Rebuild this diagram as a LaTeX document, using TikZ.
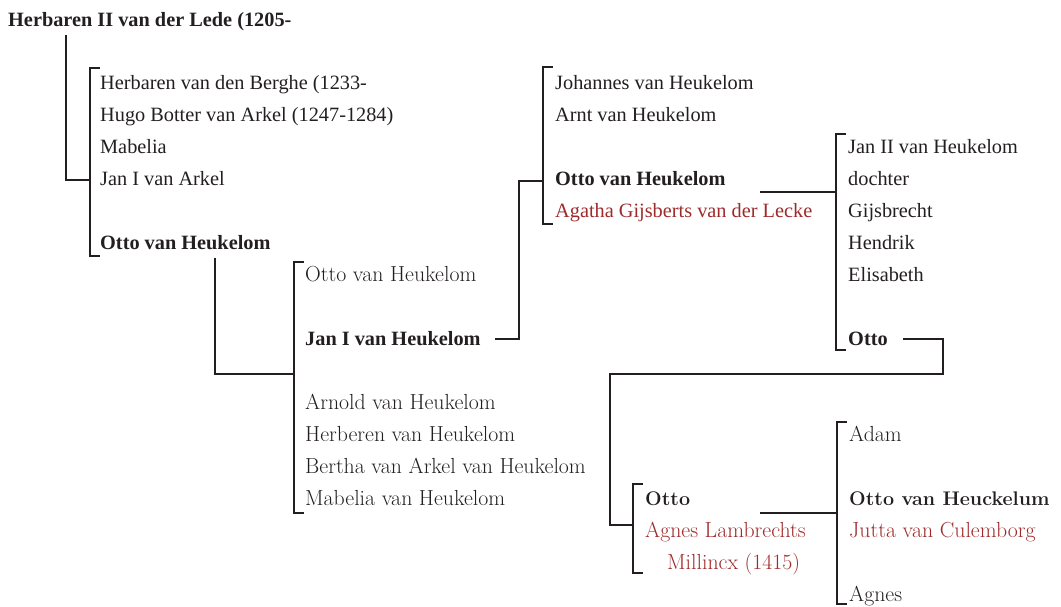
\documentclass[tikz,border=0pt]{standalone}
\usepackage{fontspec}
\newfontfamily\tms{Liberation Serif}
\definecolor{ink}{HTML}{231F20}
\definecolor{wine}{HTML}{9E2A2B}
\tikzset{
	tm/.style={anchor=base west,inner sep=0pt,text=ink,font=\tms\fontsize{20.3}{24}\selectfont},
	lm/.style={anchor=base west,inner sep=0pt,text=ink,font=\fontsize{21.8}{26}\selectfont\addfontfeatures{FakeBold=0.6}},
	lmb/.style={anchor=base west,inner sep=0pt,text=ink,font=\fontsize{19.7}{24}\selectfont\bfseries},
	spouse/.style={text=wine},
	brk/.style={draw=ink,line width=2.6pt}
}

\begin{document}
\begin{tikzpicture}[x=1pt,y=-1pt]
	\useasboundingbox (0,0) rectangle (1061,606);

	%root
	\node[tm] (root) at (8,26) {\bfseries Herbaren II van der Lede (1205-};

	%first generation
	\node[tm] (a1) at (100,89.5)  {Herbaren van den Berghe (1233-};
	\node[tm] (a2) at (100,121.5) {Hugo Botter van Arkel (1247-1284)};
	\node[tm] (a3) at (100,153.5) {Mabelia};
	\node[tm] (a4) at (100,185.5) {Jan I van Arkel};
	\node[tm] (a5) at (100,249.5) {\bfseries Otto van Heukelom};
	%
	\node[lm] (b1) at (305,281.5) {Otto van Heukelom};
	\node[tm] (b2) at (305,345.5) {\bfseries Jan I van Heukelom};
	\node[lm] (b3) at (305,409.5) {Arnold van Heukelom};
	\node[lm] (b4) at (305,441.5) {Herberen van Heukelom};
	\node[lm] (b5) at (305,473.5) {Bertha van Arkel van Heukelom};
	\node[lm] (b6) at (305,505.5) {Mabelia van Heukelom};
	%
	\node[tm] (c1) at (555,89.5)  {Johannes van Heukelom};
	\node[tm] (c2) at (555,121.5) {Arnt van Heukelom};
	\node[tm] (c3) at (555,185.5) {\bfseries Otto van Heukelom};
	\node[tm,spouse] (c4) at (555,217.5) {Agatha Gijsberts van der Lecke};
	%
	\node[tm] (d1) at (848,153.5) {Jan II van Heukelom};
	\node[tm] (d2) at (848,185.5) {dochter};
	\node[tm] (d3) at (848,217.5) {Gijsbrecht};
	\node[tm] (d4) at (848,249.5) {Hendrik};
	\node[tm] (d5) at (848,281.5) {Elisabeth};
	\node[tm] (d6) at (848,345.5) {\bfseries Otto};
	%
	\node[lmb] (e1) at (645,505.5) {Otto};
	\node[lm,spouse] (e2) at (645,537.5) {Agnes Lambrechts};
	\node[lm,spouse] (e3) at (667,569.5) {Millincx (1415)};
	%
	\node[lm] (f1) at (849,441.5) {Adam};
	\node[lmb] (f2) at (849,505.5) {Otto van Heuckelum};
	\node[lm,spouse] (f3) at (849,537.5) {Jutta van Culemborg};
	\node[lm] (f4) at (849,601.5) {Agnes};

	%bracket ends
	\coordinate (k1t) at (90,68);   \coordinate (k1b) at (90,256);
	\coordinate (k2t) at (294,262); \coordinate (k2b) at (294,513);
	\coordinate (k3t) at (543,67);  \coordinate (k3b) at (543,224);
	\coordinate (k4t) at (836,134); \coordinate (k4b) at (836,350);
	\coordinate (k5t) at (633,484); \coordinate (k5b) at (633,573);
	\coordinate (k6t) at (837,422); \coordinate (k6b) at (837,604);
	\foreach \k in {k1,k2,k3,k4,k5,k6}
	\draw[brk] ([xshift=10pt]\k t) -- (\k t) -- (\k b) -- ([xshift=10pt]\k b);

	%joints
	\coordinate (j0) at (66,35);   \coordinate (j1) at (90,180);
	\coordinate (j2) at (215,258); \coordinate (j3) at (294,374);
	\coordinate (j4) at (495,339); \coordinate (j5) at (543,181);
	\coordinate (j6) at (760,192);
	\coordinate (j7) at (903,339); \coordinate (j8) at (610,374);
	\coordinate (j9) at (633,525);
	\coordinate (j10) at (760,513);

	%descent lines
	\draw[brk] (j0) |- (j1);
	\draw[brk] (j2) |- (j3);
	\draw[brk] (j4) -- ++(24,0) |- (j5);
	\draw[brk] (j6) -- (j6 -| k4t);
	\draw[brk] (j7) -- ++(40,0) |- (j8) |- (j9);
	\draw[brk] (j10) -- (j10 -| k6t);
\end{tikzpicture}
\end{document}
